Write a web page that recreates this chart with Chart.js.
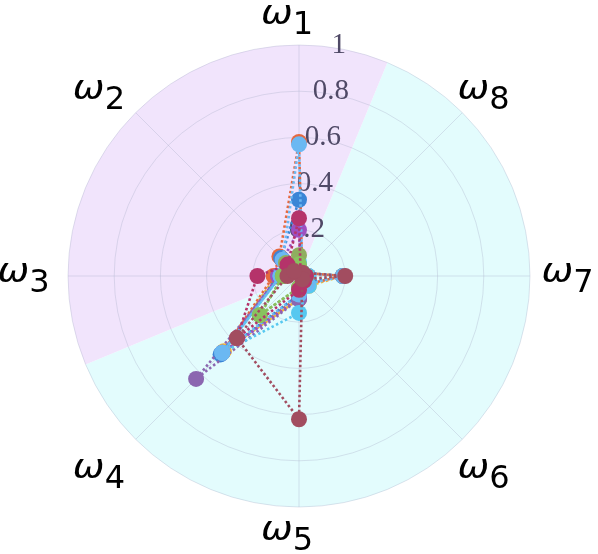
<!DOCTYPE html>
<html>
<head>
<meta charset="utf-8">
<script src="https://cdn.jsdelivr.net/npm/chart.js@4.4.0/dist/chart.umd.min.js"></script>
<style>
  body { margin: 0; background: #fff; }
</style>
</head>
<body>
<canvas id="myChart" width="598" height="554"></canvas>
<script>
// axes, clockwise from the top
const labels = ['ω1', 'ω8', 'ω7', 'ω6', 'ω5', 'ω4', 'ω3', 'ω2'];
const tickValues = [0.2, 0.4, 0.6, 0.8, 1];
const tickLabels = ['0.2', '0.4', '0.6', '0.8', '1'];

// values per series, same order as labels
const yellow    = [0.05, 0.02, 0.19, 0.06, 0.10, 0.46, 0.10, 0.11];
const orange    = [0.58, 0.02, 0.19, 0.05, 0.09, 0.47, 0.11, 0.12];
const blue      = [0.33, 0.02, 0.19, 0.04, 0.08, 0.48, 0.09, 0.11];
const purple    = [0.20, 0.01, 0.03, 0.04, 0.10, 0.47, 0.09, 0.10];
const olive     = [0.09, 0.02, 0.03, 0.03, 0.05, 0.24, 0.07, 0.08];
const green     = [0.05, 0.02, 0.03, 0.03, 0.05, 0.24, 0.07, 0.06];
const violet    = [0.04, 0.02, 0.04, 0.05, 0.10, 0.63, 0.08, 0.06];
const cyan      = [0.06, 0.02, 0.04, 0.06, 0.16, 0.47, 0.08, 0.07];
const lightBlue = [0.57, 0.02, 0.19, 0.05, 0.08, 0.47, 0.08, 0.10];
const crimson   = [0.25, 0.01, 0.03, 0.03, 0.06, 0.38, 0.18, 0.07];
const maroon    = [0.01, 0.02, 0.20, 0.02, 0.62, 0.38, 0.05, 0.03];

// bottom to top
const series = [
    [yellow, '#f0b43a'],
    [orange, '#e5683f'],
    [blue, '#3a85d6'],
    [purple, '#9d4fc0'],
    [violet, '#8b66b0'],
    [cyan, '#57c8f0'],
    [lightBlue, '#6bb8f2'],
    [olive, '#8fae60'],
    [green, '#88c35e'],
    [crimson, '#b5336a'],
    [maroon, '#a24d60']
];

function createDataset(values, color) {
    return {
        data: values,
        borderColor: color,
        backgroundColor: color,
        pointBackgroundColor: color,
        pointBorderWidth: 0,
        pointRadius: 8,
        borderWidth: 2.6,
        borderDash: [2.5, 2.5],
        fill: false
    };
}

// chart.js draws the first dataset on top
const datasets = series.map(s => createDataset(s[0], s[1])).reverse();

const sectors = {
    id: 'sectors',
    beforeDraw(chart) {
        const r = chart.scales.r;
        const ctx = chart.ctx;
        const deg = Math.PI / 180;
        ctx.save();
        ctx.fillStyle = '#e3fcfd';
        ctx.beginPath();
        ctx.moveTo(r.xCenter, r.yCenter);
        ctx.arc(r.xCenter, r.yCenter, r.drawingArea, -67.5 * deg, 157.5 * deg);
        ctx.closePath();
        ctx.fill();
        ctx.fillStyle = '#f1e4fc';
        ctx.beginPath();
        ctx.moveTo(r.xCenter, r.yCenter);
        ctx.arc(r.xCenter, r.yCenter, r.drawingArea, 157.5 * deg, 292.5 * deg);
        ctx.closePath();
        ctx.fill();
        ctx.restore();
    },
    beforeDatasetsDraw(chart) {
        const r = chart.scales.r;
        const ctx = chart.ctx;
        ctx.save();
        ctx.font = '29px "Liberation Serif"';
        ctx.fillStyle = '#4f4966';
        ctx.textAlign = 'center';
        ctx.textBaseline = 'middle';
        tickValues.forEach((v, i) => {
            const d = r.getDistanceFromCenterForValue(v);
            ctx.fillText(tickLabels[i], r.xCenter + d * 0.172, r.yCenter - d);
        });
        ctx.restore();
    },
    afterDraw(chart) {
        const r = chart.scales.r;
        const ctx = chart.ctx;
        ctx.save();
        ctx.fillStyle = '#000';
        ctx.textBaseline = 'alphabetic';
        labels.forEach((lab, i) => {
            const a = r.getIndexAngle(i);
            const s = Math.sin(a), c = Math.cos(a);
            const cx = r.xCenter + s * 272 - 3.5 - 8.5 * c * c;
            const cy = r.yCenter - c * 258 + (c < -0.5 && c > -0.9 ? 16 : 2);
            const sym = lab.charAt(0);
            const sub = lab.slice(1);
            const stretch = 1.15;
            ctx.font = 'italic 33px "DejaVu Sans"';
            const w1 = ctx.measureText(sym).width * stretch;
            ctx.font = '32px "DejaVu Sans"';
            const w2 = ctx.measureText(sub).width;
            const x0 = cx - (w1 + w2) / 2;
            const base = cy + 3.5;
            ctx.save();
            ctx.translate(x0, base);
            ctx.scale(stretch, 1);
            ctx.font = 'italic 33px "DejaVu Sans"';
            ctx.fillText(sym, 0, 0);
            ctx.restore();
            ctx.font = '32px "DejaVu Sans"';
            ctx.fillText(sub, x0 + w1, base + 10);
        });
        ctx.restore();
    }
};

new Chart(document.getElementById('myChart'), {
    type: 'radar',
    data: { labels: labels, datasets: datasets },
    plugins: [sectors],
    options: {
        responsive: false,
        animation: false,
        layout: { padding: { top: 45, bottom: 47, left: 68, right: 68 } },
        elements: { line: { tension: 0 } },
        scales: {
            r: {
                min: 0,
                max: 1,
                ticks: { stepSize: 0.2, display: false },
                grid: { circular: true, color: 'rgba(170,175,200,0.35)', lineWidth: 1 },
                angleLines: { color: 'rgba(170,175,200,0.35)', lineWidth: 1 },
                pointLabels: { display: false }
            }
        },
        plugins: {
            legend: { display: false },
            tooltip: { enabled: false }
        }
    }
});
</script>
</body>
</html>
